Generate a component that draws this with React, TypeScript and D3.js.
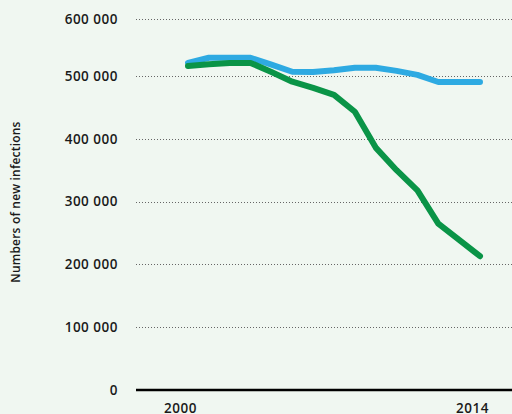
import React from "react";
import * as d3 from "d3";

const years = [2000, 2001, 2002, 2003, 2004, 2005, 2006, 2007, 2008, 2009, 2010, 2011, 2012, 2013, 2014];
const blueSeries = [523000, 532000, 532000, 532000, 520000, 507500, 507000, 510000, 514500, 514500, 509000, 502000, 490500, 490500, 490500];
const greenSeries = [517500, 520500, 523000, 523000, 507000, 491000, 481000, 470000, 443000, 386000, 350000, 318000, 265000, 239000, 213000];
const yTicks = [0, 100000, 200000, 300000, 400000, 500000, 600000];
const xTickYears = [2000, 2014];
const yTitle = "Numbers of new infections";

const W = 512;
const H = 414;

export default function App() {
  const x = d3.scaleLinear().domain([2000, 2014]).range([188, 480]);
  const y = d3.scaleLinear().domain([0, 500000, 600000]).range([390, 76, 19]);
  const fmt = (v: number) => d3.format(",")(v).replace(/,/g, " ");
  const line = d3
    .line<number>()
    .x((_, i) => x(years[i]))
    .y((d) => y(d));
  const font = "'Open Sans', sans-serif";
  return (
    <div style={{ position: "absolute", left: 0, top: 0, width: W, height: H }}>
      <svg width={W} height={H} style={{ display: "block" }}>
        <rect x={0} y={0} width={W} height={H} fill="#f0f7f1" />
        {yTicks.map((t) => (
          <g key={t}>
            {t !== 0 && (
              <line
                x1={136}
                x2={W}
                y1={Math.round(y(t)) + 0.5}
                y2={Math.round(y(t)) + 0.5}
                stroke="#666"
                strokeWidth={1}
                strokeDasharray="1,2"
              />
            )}
            <text
              x={118}
              y={y(t)}
              dy="0.35em"
              textAnchor="end"
              fontFamily={font}
              fontWeight={600}
              fontSize={13.5}
              letterSpacing={0.5}
              fill="#1a1a1a"
            >
              {fmt(t)}
            </text>
          </g>
        ))}
        <line x1={136} x2={W} y1={y(0)} y2={y(0)} stroke="#000" strokeWidth={2.5} />
        {xTickYears.map((yr) => (
          <text
            key={yr}
            x={x(yr) - 7.5}
            y={413}
            textAnchor="middle"
            fontFamily={font}
            fontWeight={600}
            fontSize={13.5}
            letterSpacing={0.5}
            fill="#1a1a1a"
          >
            {yr}
          </text>
        ))}
        <text
          transform={`translate(20,202) rotate(-90)`}
          textAnchor="middle"
          fontFamily={font}
          fontWeight={600}
          fontSize={12}
          letterSpacing={0.2}
          fill="#1a1a1a"
        >
          {yTitle}
        </text>
        <path
          d={line(blueSeries) || ""}
          fill="none"
          stroke="#2eaae2"
          strokeWidth={6}
          strokeLinecap="round"
          strokeLinejoin="round"
        />
        <path
          d={line(greenSeries) || ""}
          fill="none"
          stroke="#0a9447"
          strokeWidth={6}
          strokeLinecap="round"
          strokeLinejoin="round"
        />
      </svg>
    </div>
  );
}
